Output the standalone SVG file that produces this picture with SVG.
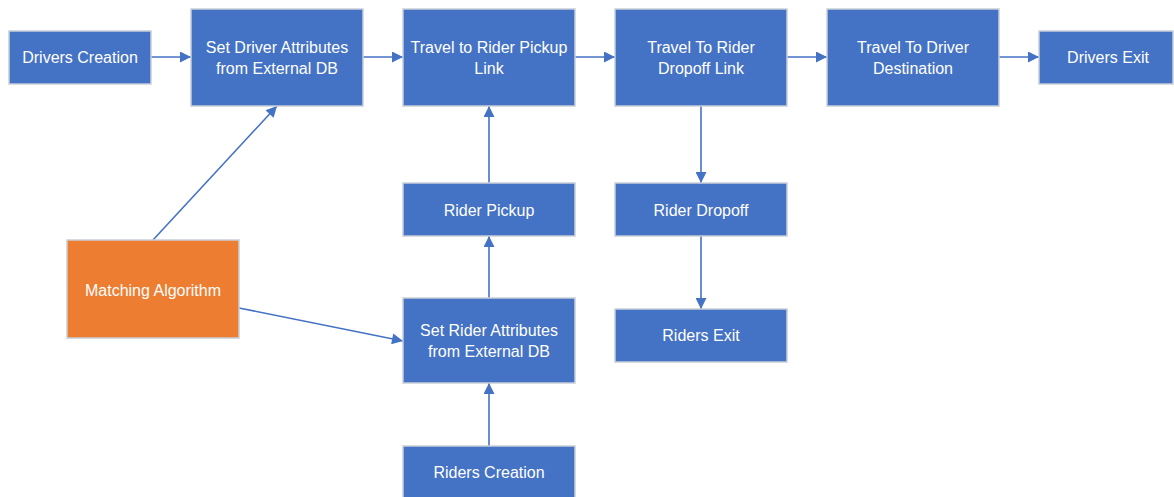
<svg xmlns="http://www.w3.org/2000/svg" width="1174" height="497" viewBox="0 0 1174 497">
<style>
.b{fill:#4472C4;stroke:#C9CED8;stroke-width:1.5}
.o{fill:#ED7D31;stroke:#C9CED8;stroke-width:1.5}
.t{font-family:"Liberation Sans",Arial,sans-serif;font-size:16px;fill:#FFFFFF;text-anchor:middle}
.c{stroke:#4472C4;stroke-width:1.6;fill:none;marker-end:url(#ah)}
</style>
<defs>
<marker id="ah" viewBox="0 0 10 10" refX="10" refY="5" markerWidth="12" markerHeight="11" markerUnits="userSpaceOnUse" orient="auto">
<path d="M0,0 L10,5 L0,10 Z" fill="#4472C4"/>
</marker>
</defs>
<rect width="1174" height="497" fill="#FFFFFF"/>
<g id="connectors">
<line class="c" x1="151" y1="57" x2="191" y2="57"/>
<line class="c" x1="363" y1="57" x2="403" y2="57"/>
<line class="c" x1="575" y1="57" x2="615" y2="57"/>
<line class="c" x1="787" y1="57" x2="827" y2="57"/>
<line class="c" x1="999" y1="57" x2="1039" y2="57"/>
<line class="c" x1="489" y1="183" x2="489" y2="106"/>
<line class="c" x1="489" y1="298" x2="489" y2="236"/>
<line class="c" x1="489" y1="446" x2="489" y2="383"/>
<line class="c" x1="701" y1="106" x2="701" y2="183"/>
<line class="c" x1="701" y1="236" x2="701" y2="309"/>
<line class="c" x1="153" y1="240" x2="277" y2="106"/>
<line class="c" x1="239" y1="308" x2="403" y2="341"/>
</g>
<g id="drivers-creation"><rect class="b" x="9" y="31" width="142" height="53"/><text class="t" x="80" y="63">Drivers Creation</text></g>
<g id="set-driver-attributes"><rect class="b" x="191" y="9" width="172" height="97"/><text class="t" x="277" y="53">Set Driver Attributes</text><text class="t" x="277" y="74">from External DB</text></g>
<g id="travel-pickup"><rect class="b" x="403" y="9" width="172" height="97"/><text class="t" x="489" y="53">Travel to Rider Pickup</text><text class="t" x="489" y="74">Link</text></g>
<g id="travel-dropoff"><rect class="b" x="615" y="9" width="172" height="97"/><text class="t" x="701" y="53">Travel To Rider</text><text class="t" x="701" y="74">Dropoff Link</text></g>
<g id="travel-destination"><rect class="b" x="827" y="9" width="172" height="97"/><text class="t" x="913" y="53">Travel To Driver</text><text class="t" x="913" y="74">Destination</text></g>
<g id="drivers-exit"><rect class="b" x="1039" y="31" width="134" height="53"/><text class="t" x="1108" y="63">Drivers Exit</text></g>
<g id="rider-pickup"><rect class="b" x="403" y="183" width="172" height="53"/><text class="t" x="489" y="216">Rider Pickup</text></g>
<g id="set-rider-attributes"><rect class="b" x="403" y="298" width="172" height="85"/><text class="t" x="489" y="336">Set Rider Attributes</text><text class="t" x="489" y="357">from External DB</text></g>
<g id="riders-creation"><rect class="b" x="403" y="446" width="172" height="53"/><text class="t" x="489" y="478">Riders Creation</text></g>
<g id="matching-algorithm"><rect class="o" x="67" y="240" width="172" height="98"/><text class="t" x="153" y="296">Matching Algorithm</text></g>
<g id="rider-dropoff"><rect class="b" x="615" y="183" width="172" height="53"/><text class="t" x="701" y="216">Rider Dropoff</text></g>
<g id="riders-exit"><rect class="b" x="615" y="309" width="172" height="53"/><text class="t" x="701" y="341">Riders Exit</text></g>
</svg>
